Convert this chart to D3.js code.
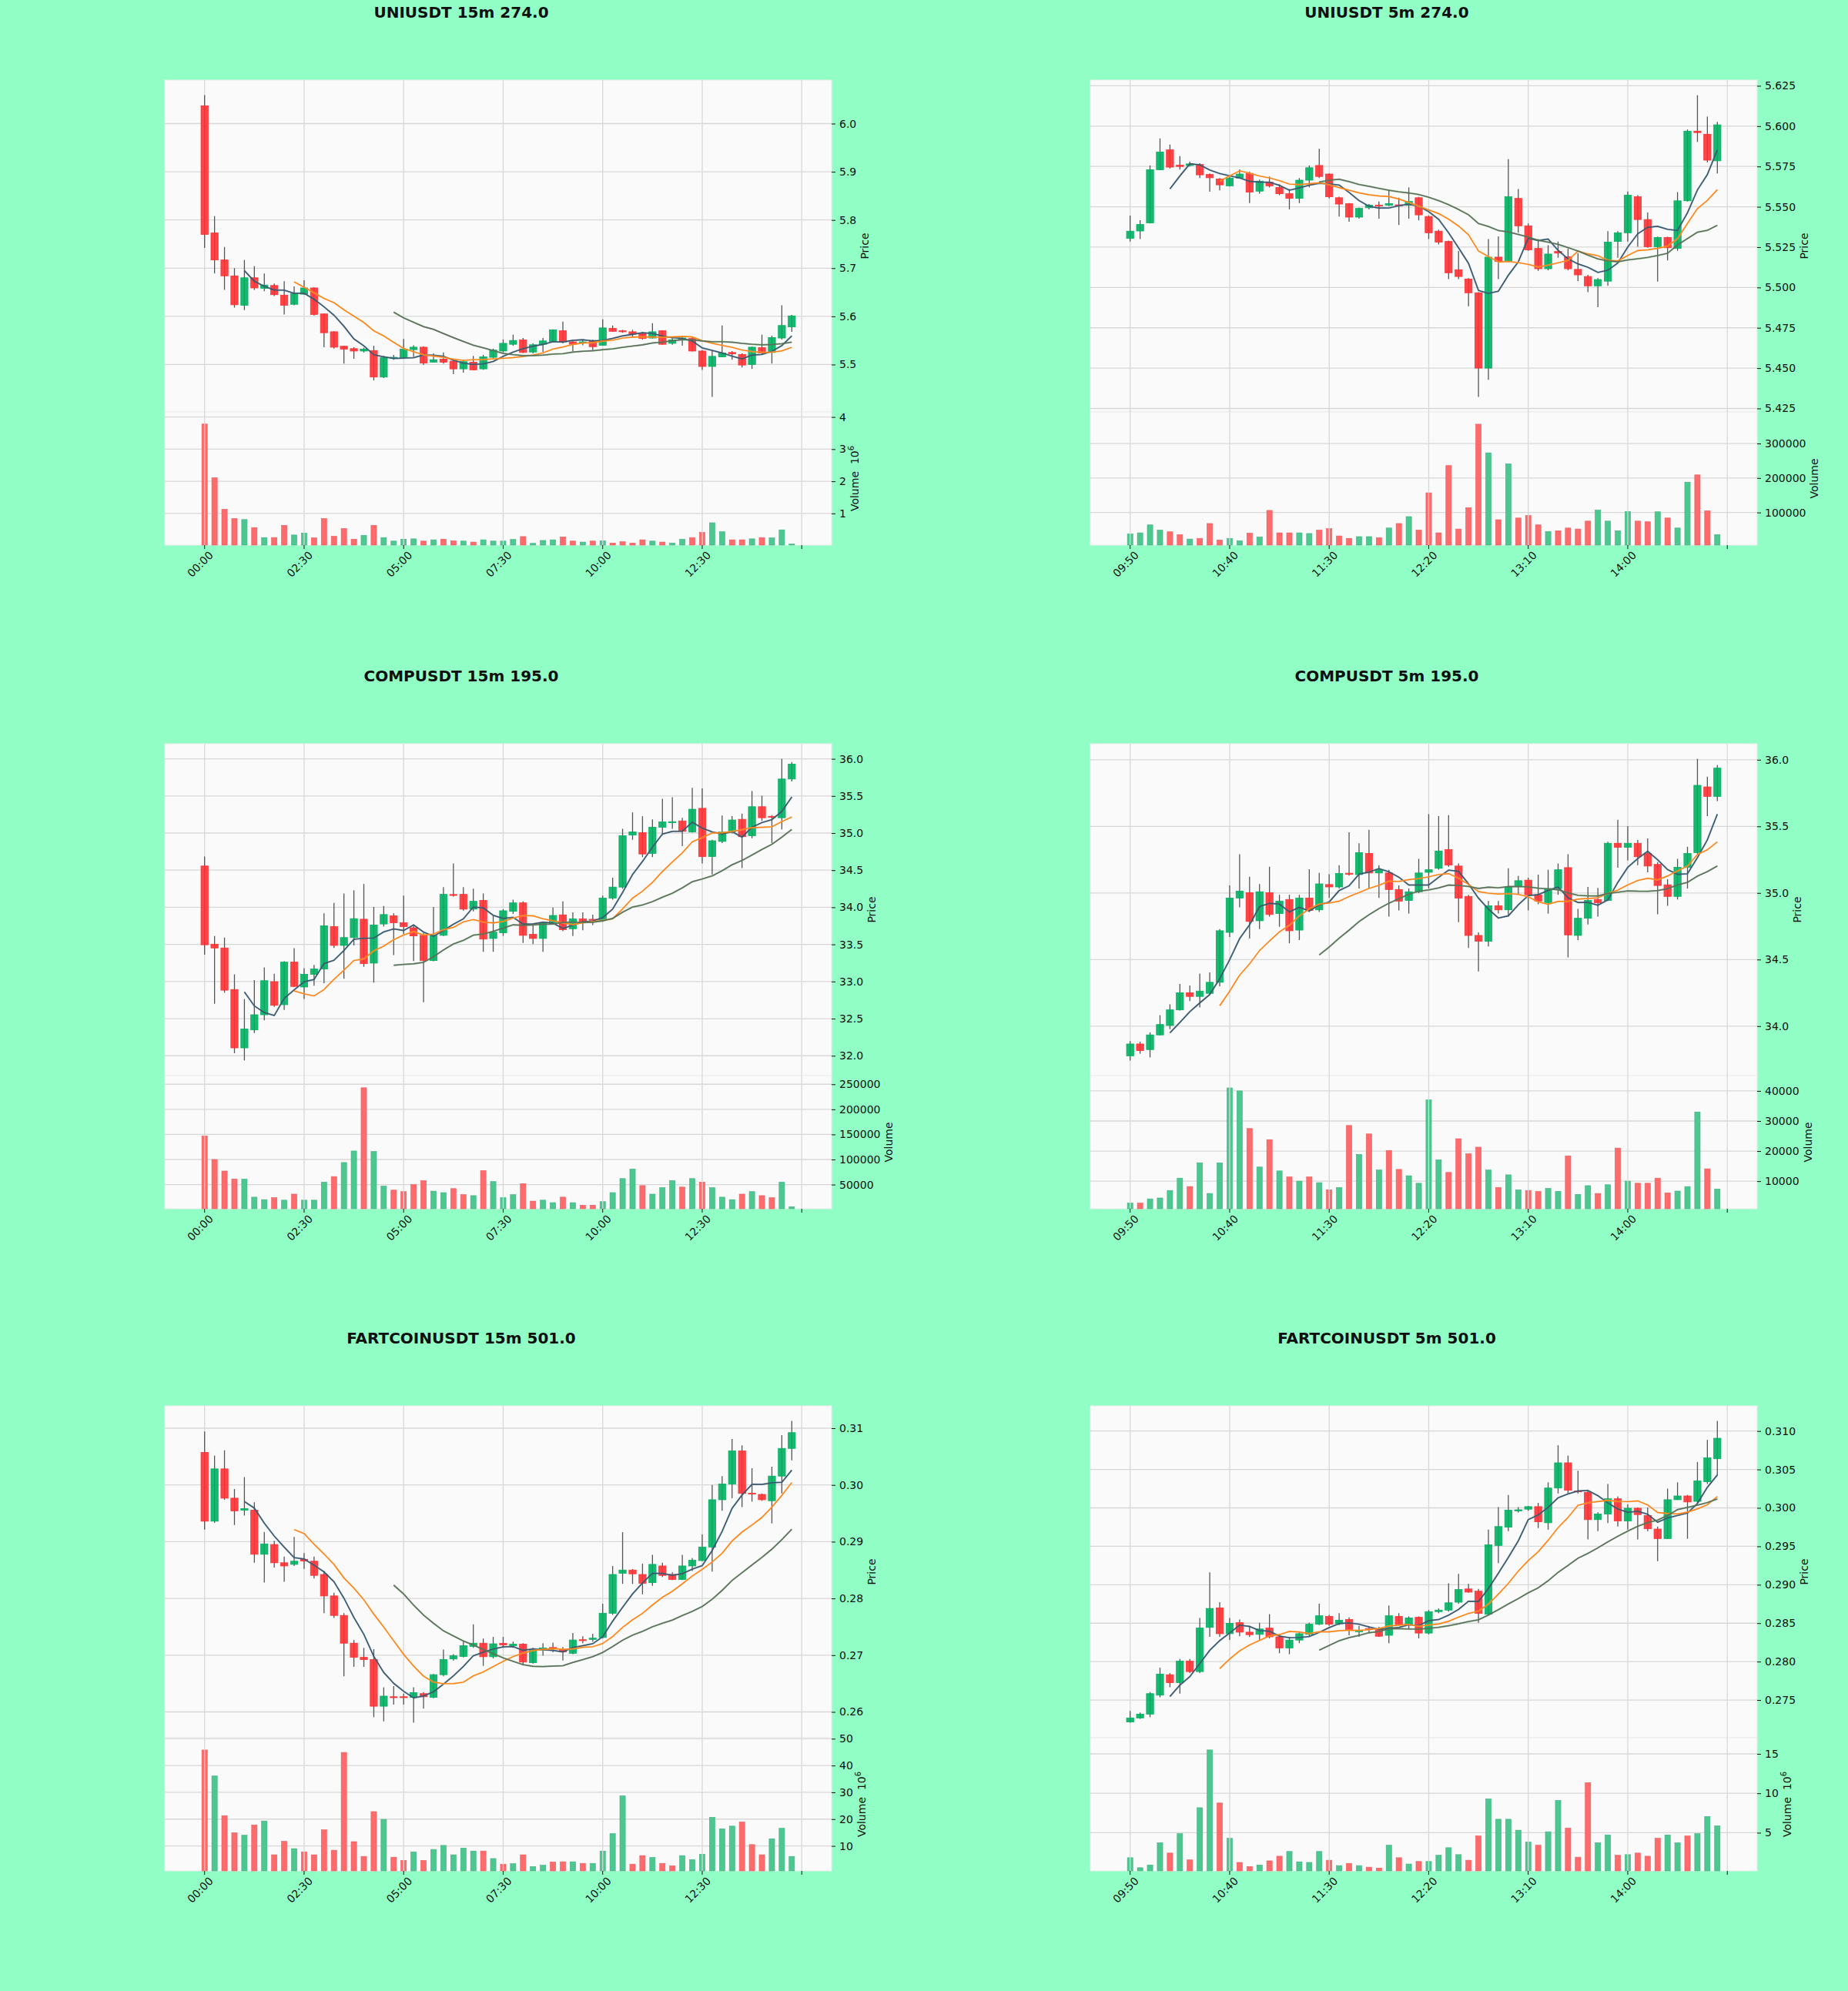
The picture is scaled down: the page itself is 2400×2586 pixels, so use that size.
<!DOCTYPE html>
<html>
<head>
<meta charset="utf-8">
<script src="https://cdn.jsdelivr.net/npm/d3@7"></script>
<style>
  body { margin: 0; background: #91ffc5; }
  svg { display: block; font-family: "DejaVu Sans", sans-serif; }
</style>
</head>
<body>
<div id="chart"></div>
<script>
// ---- tick labels ----
var ticks15 = ["00:00", "02:30", "05:00", "07:30", "10:00", "12:30"];
var ticks5 = ["09:50", "10:40", "11:30", "12:20", "13:10", "14:00"];

// ---- UNIUSDT 15m ----
var uni15O = [6.037,5.773,5.717,5.684,5.623,5.680,5.658,5.664,5.644,5.625,5.646,5.659,5.605,5.568,5.538,5.533,5.528,5.529,5.474,5.514,5.514,5.531,5.536,5.505,5.511,5.507,5.491,5.505,5.491,5.515,5.528,5.542,5.551,5.526,5.542,5.548,5.570,5.547,5.546,5.549,5.540,5.575,5.570,5.568,5.565,5.555,5.570,5.544,5.552,5.554,5.528,5.496,5.516,5.525,5.521,5.500,5.535,5.525,5.555,5.578];
var uni15H = [6.059,5.808,5.744,5.700,5.717,5.704,5.689,5.668,5.673,5.662,5.675,5.660,5.606,5.569,5.539,5.536,5.535,5.539,5.518,5.520,5.553,5.540,5.538,5.523,5.525,5.512,5.510,5.518,5.520,5.533,5.552,5.562,5.555,5.544,5.555,5.573,5.589,5.549,5.551,5.552,5.594,5.581,5.572,5.572,5.568,5.586,5.571,5.557,5.560,5.557,5.530,5.528,5.581,5.528,5.523,5.537,5.562,5.560,5.623,5.603];
var uni15L = [5.742,5.689,5.655,5.618,5.613,5.655,5.652,5.642,5.604,5.623,5.645,5.602,5.536,5.533,5.502,5.512,5.525,5.467,5.472,5.510,5.512,5.516,5.499,5.504,5.502,5.480,5.483,5.488,5.489,5.512,5.525,5.539,5.524,5.523,5.526,5.547,5.544,5.528,5.540,5.530,5.539,5.568,5.566,5.557,5.552,5.554,5.541,5.541,5.539,5.527,5.489,5.433,5.515,5.510,5.494,5.491,5.520,5.502,5.552,5.568];
var uni15C = [5.770,5.717,5.684,5.624,5.680,5.659,5.665,5.645,5.623,5.647,5.659,5.604,5.566,5.536,5.532,5.528,5.532,5.474,5.514,5.515,5.532,5.536,5.503,5.510,5.505,5.491,5.506,5.489,5.516,5.530,5.544,5.550,5.525,5.541,5.549,5.572,5.547,5.542,5.547,5.537,5.576,5.569,5.568,5.563,5.554,5.568,5.542,5.551,5.555,5.528,5.496,5.517,5.524,5.522,5.499,5.536,5.524,5.556,5.581,5.601];
var uni15V = [3780000,2110000,1130000,840000,810000,560000,250000,250000,630000,330000,390000,240000,840000,290000,530000,200000,320000,630000,250000,140000,200000,210000,140000,180000,200000,150000,140000,110000,180000,140000,140000,190000,280000,70000,160000,180000,270000,140000,110000,140000,150000,80000,120000,80000,180000,140000,110000,80000,200000,250000,410000,710000,430000,180000,180000,210000,250000,240000,490000,50000];
var uni15Ticks = [5.5, 5.6, 5.7, 5.8, 5.9, 6.0];
var uni15VTicks = [1e6, 2e6, 3e6, 4e6];

// ---- UNIUSDT 5m ----
var uni5O = [5.5304,5.5350,5.5400,5.5730,5.5853,5.5758,5.5756,5.5762,5.5700,5.5672,5.5630,5.5678,5.5707,5.5597,5.5653,5.5620,5.5581,5.5552,5.5665,5.5756,5.5703,5.5556,5.5519,5.5436,5.5494,5.5510,5.5510,5.5512,5.5510,5.5556,5.5440,5.5349,5.5285,5.5110,5.5052,5.4967,5.4500,5.5188,5.5161,5.5552,5.5382,5.5242,5.5116,5.5223,5.5190,5.5112,5.5068,5.5010,5.5039,5.5285,5.5339,5.5562,5.5421,5.5252,5.5310,5.5242,5.5537,5.5969,5.5950,5.5785];
var uni5H = [5.5446,5.5417,5.5756,5.5924,5.5886,5.5814,5.5780,5.5770,5.5707,5.5678,5.5688,5.5732,5.5717,5.5669,5.5688,5.5639,5.5610,5.5678,5.5756,5.5859,5.5707,5.5562,5.5523,5.5494,5.5517,5.5533,5.5607,5.5556,5.5620,5.5562,5.5446,5.5358,5.5291,5.5226,5.5058,5.4971,5.5300,5.5317,5.5795,5.5610,5.5397,5.5300,5.5262,5.5285,5.5242,5.5213,5.5078,5.5058,5.5349,5.5349,5.5595,5.5572,5.5465,5.5316,5.5314,5.5591,5.5979,5.6192,5.6059,5.6027];
var uni5L = [5.5285,5.5300,5.5397,5.5727,5.5737,5.5731,5.5750,5.5678,5.5593,5.5602,5.5626,5.5678,5.5523,5.5581,5.5620,5.5572,5.5484,5.5523,5.5620,5.5678,5.5552,5.5440,5.5407,5.5426,5.5484,5.5426,5.5504,5.5387,5.5426,5.5416,5.5300,5.5266,5.5052,5.5052,5.4884,5.4322,5.4428,5.5052,5.5155,5.5339,5.5227,5.5103,5.5106,5.5184,5.5106,5.5040,5.4971,5.4878,5.5010,5.5184,5.5285,5.5252,5.5246,5.5036,5.5168,5.5227,5.5533,5.5902,5.5775,5.5707];
var uni5C = [5.5349,5.5390,5.5730,5.5840,5.5746,5.5750,5.5766,5.5698,5.5680,5.5636,5.5678,5.5703,5.5591,5.5659,5.5630,5.5581,5.5552,5.5665,5.5742,5.5688,5.5562,5.5517,5.5436,5.5490,5.5510,5.5508,5.5520,5.5508,5.5533,5.5450,5.5339,5.5281,5.5091,5.5068,5.4967,5.4500,5.5188,5.5161,5.5562,5.5382,5.5233,5.5116,5.5207,5.5213,5.5116,5.5078,5.5010,5.5049,5.5281,5.5339,5.5572,5.5421,5.5252,5.5310,5.5246,5.5537,5.5969,5.5960,5.5789,5.6008];
var uni5V = [38000,41000,64000,49000,44000,36000,23000,25000,68000,20000,25000,18000,40000,29000,106000,41000,41000,41000,39000,49000,53000,32000,25000,30000,30000,27000,55000,68000,88000,49000,157000,41000,236000,52000,114000,356000,273000,79000,241000,84000,91000,64000,45000,47000,55000,52000,75000,107000,75000,47000,103000,75000,73000,102000,84000,55000,188000,209000,105000,36000];
var uni5Ticks = [5.425, 5.45, 5.475, 5.5, 5.525, 5.55, 5.575, 5.6, 5.625];
var uni5VTicks = [100000, 200000, 300000];

// ---- COMPUSDT 15m ----
var comp15O = [34.556,33.503,33.452,32.892,32.106,32.348,32.552,32.998,32.688,33.261,32.926,33.096,33.168,33.741,33.486,33.592,33.839,33.248,33.775,33.885,33.792,33.724,33.622,33.282,33.622,34.172,34.174,33.975,34.093,33.580,33.656,33.945,34.059,33.635,33.580,33.783,33.898,33.711,33.843,33.838,33.826,34.123,34.272,34.972,35.006,34.726,35.079,35.151,35.163,35.015,35.333,34.684,34.887,35.015,35.185,34.964,35.355,35.225,35.206,35.728];
var comp15H = [34.684,33.614,33.592,33.096,32.764,33.019,33.189,33.104,33.274,33.449,33.181,33.223,33.919,34.059,34.187,34.229,34.314,34.004,34.017,33.919,34.157,33.762,33.656,34.004,34.272,34.590,34.272,34.250,34.187,33.886,33.975,34.102,34.080,33.762,33.805,33.996,34.080,33.932,33.932,33.900,34.157,34.399,35.057,35.278,35.227,35.185,35.461,35.482,35.206,35.609,35.601,34.909,35.236,35.227,35.261,35.567,35.503,35.240,36.000,35.958];
var comp15L = [33.360,32.700,32.849,32.034,31.936,32.306,32.476,32.658,32.616,32.926,32.764,32.943,32.977,33.452,33.036,33.486,33.198,32.985,33.741,33.355,33.635,33.275,32.722,33.274,33.614,34.144,33.954,33.945,33.400,33.400,33.614,33.911,33.520,33.503,33.400,33.775,33.677,33.614,33.690,33.760,33.805,34.102,34.250,34.909,34.675,34.675,34.977,35.057,34.824,35.006,34.590,34.442,34.866,34.996,34.527,34.930,35.163,34.866,35.049,35.694];
var comp15C = [33.495,33.452,32.883,32.106,32.361,32.552,33.011,32.679,33.261,32.934,33.096,33.168,33.750,33.486,33.592,33.847,33.240,33.762,33.902,33.792,33.741,33.614,33.282,33.622,34.174,34.165,33.975,34.080,33.571,33.665,33.953,34.059,33.622,33.580,33.783,33.890,33.699,33.843,33.809,33.830,34.123,34.272,34.964,35.015,34.718,35.079,35.151,35.153,35.023,35.321,34.684,34.896,35.015,35.176,34.951,35.355,35.206,35.215,35.728,35.928];
var comp15V = [147000,100000,77000,61000,61000,25000,20000,24000,19000,31000,19000,19000,55000,66000,94000,117000,243000,116000,47000,39000,36000,50000,58000,37000,34000,42000,30000,28000,78000,56000,24000,30000,52000,17000,19000,14000,25000,14000,9000,9000,16000,34000,62000,81000,48000,31000,44000,58000,45000,62000,55000,44000,25000,20000,31000,36000,28000,24000,55000,6000];
var comp15Ticks = [32.0, 32.5, 33.0, 33.5, 34.0, 34.5, 35.0, 35.5, 36.0];
var comp15VTicks = [50000, 100000, 150000, 200000, 250000];

// ---- COMPUSDT 5m ----
var comp5O = [33.777,33.866,33.824,33.934,34.005,34.122,34.251,34.223,34.246,34.329,34.704,34.962,35.002,34.791,35.002,34.845,34.951,34.721,34.962,34.873,35.063,35.045,35.148,35.138,35.296,35.150,35.150,35.026,34.944,35.009,35.155,35.185,35.326,35.202,34.974,34.681,34.638,34.904,34.873,35.049,35.096,34.986,34.927,35.033,35.190,34.681,34.810,34.951,34.944,35.373,35.343,35.373,35.296,35.214,35.061,34.974,35.192,35.303,35.796,35.725];
var comp5H = [33.887,33.883,33.953,34.082,34.164,34.317,34.305,34.394,34.404,34.728,35.056,35.291,35.122,35.066,35.197,34.986,34.986,34.986,35.178,35.150,35.140,35.209,35.455,35.373,35.474,35.209,35.174,35.056,35.033,35.256,35.592,35.577,35.584,35.221,34.986,34.704,34.939,34.939,35.185,35.127,35.115,35.138,35.174,35.221,35.291,34.880,35.045,35.038,35.385,35.549,35.502,35.397,35.409,35.232,35.103,35.256,35.347,36.007,35.873,35.960];
var comp5L = [33.742,33.793,33.765,33.930,33.977,34.117,34.188,34.141,34.234,34.300,34.669,34.892,34.657,34.728,34.822,34.746,34.622,34.646,34.857,34.857,34.962,35.033,35.131,35.033,35.033,34.962,34.822,34.869,34.845,34.998,35.033,35.174,35.197,34.780,34.587,34.411,34.598,34.845,34.822,34.986,34.869,34.915,34.845,34.986,34.516,34.646,34.763,34.822,34.939,35.190,35.244,35.209,35.155,34.840,34.904,34.951,35.033,35.291,35.577,35.690];
var comp5C = [33.866,33.817,33.934,34.012,34.122,34.251,34.223,34.263,34.329,34.716,34.962,35.014,34.786,35.009,34.838,34.939,34.716,34.962,34.869,35.068,35.045,35.146,35.140,35.303,35.150,35.174,35.026,34.939,35.009,35.150,35.174,35.315,35.209,34.962,34.681,34.638,34.904,34.873,35.045,35.092,34.986,34.939,35.033,35.174,34.685,34.810,34.944,34.927,35.373,35.343,35.373,35.272,35.202,35.056,34.974,35.192,35.296,35.808,35.725,35.937];
var comp5V = [2700,2700,4100,4400,6900,11000,8200,16100,5900,16100,41000,40000,27500,14700,23800,13400,11400,10000,11400,9500,7100,7900,28500,18900,25700,13700,20200,13900,11800,9300,37000,17100,12900,24100,19100,21300,13700,7900,12100,7100,6900,6600,7600,6600,18400,5600,8500,5900,8800,21000,10000,9300,9300,11000,6100,6700,8200,33000,14100,7400];
var comp5Ticks = [34.0, 34.5, 35.0, 35.5, 36.0];
var comp5VTicks = [10000, 20000, 30000, 40000];

// ---- FARTCOINUSDT 15m ----
var fart15O = [0.30572,0.29361,0.30283,0.29767,0.29556,0.29556,0.28778,0.28950,0.28628,0.28600,0.28690,0.28656,0.28422,0.28044,0.27700,0.27211,0.26961,0.26922,0.26100,0.26267,0.26267,0.26256,0.26322,0.26256,0.26656,0.26933,0.26978,0.27156,0.27211,0.26972,0.27210,0.27167,0.27194,0.26867,0.27089,0.27135,0.27100,0.27033,0.27272,0.27278,0.27311,0.27739,0.28444,0.28500,0.28422,0.28278,0.28572,0.28422,0.28333,0.28572,0.28667,0.28906,0.29739,0.30017,0.30600,0.29855,0.29833,0.29722,0.30156,0.30644];
var fart15H = [0.30944,0.30517,0.30611,0.29928,0.30139,0.29694,0.29172,0.29017,0.28739,0.29083,0.28800,0.28739,0.28483,0.28100,0.27739,0.27267,0.27128,0.27106,0.26433,0.26456,0.26322,0.26433,0.26350,0.26667,0.27100,0.27017,0.27239,0.27544,0.27294,0.27322,0.27322,0.27239,0.27211,0.27128,0.27211,0.27220,0.27144,0.27389,0.27333,0.27378,0.27906,0.28572,0.29167,0.28517,0.28611,0.28767,0.28628,0.28461,0.28767,0.28711,0.29128,0.30000,0.30156,0.30811,0.30700,0.30294,0.29850,0.30322,0.30878,0.31128];
var fart15L = [0.29211,0.29333,0.29739,0.29294,0.29461,0.28628,0.28278,0.28544,0.28294,0.28572,0.28520,0.28350,0.27739,0.27656,0.26628,0.26794,0.26794,0.25906,0.25833,0.26128,0.26128,0.25811,0.26056,0.26239,0.26628,0.26906,0.26961,0.27128,0.26811,0.26944,0.27128,0.27128,0.26822,0.26850,0.26989,0.27050,0.26906,0.27017,0.27211,0.27239,0.27294,0.27711,0.28256,0.28256,0.28072,0.28222,0.28378,0.28322,0.28322,0.28483,0.28656,0.28472,0.29544,0.29767,0.29611,0.29706,0.29720,0.29322,0.29850,0.30433];
var fart15C = [0.29361,0.30283,0.29767,0.29544,0.29583,0.28778,0.28961,0.28628,0.28572,0.28656,0.28660,0.28406,0.28044,0.27700,0.27211,0.26961,0.26922,0.26100,0.26278,0.26256,0.26260,0.26339,0.26267,0.26656,0.26922,0.26989,0.27167,0.27211,0.26972,0.27200,0.27180,0.27194,0.26878,0.27100,0.27128,0.27122,0.27056,0.27267,0.27262,0.27300,0.27739,0.28422,0.28500,0.28433,0.28267,0.28600,0.28406,0.28333,0.28572,0.28672,0.28906,0.29739,0.30017,0.30600,0.29850,0.29845,0.29739,0.30156,0.30644,0.30922];
var fart15V = [45.8e6,36.1e6,21.3e6,14.9e6,14.0e6,17.8e6,19.3e6,6.7e6,11.7e6,9.0e6,7.8e6,6.7e6,16.0e6,8.4e6,44.9e6,11.6e6,6.1e6,22.8e6,19.9e6,5.8e6,4.6e6,7.8e6,4.6e6,8.7e6,10.2e6,6.7e6,9.2e6,8.1e6,8.1e6,5.3e6,3.2e6,3.4e6,6.7e6,2.3e6,2.8e6,4.0e6,4.1e6,4.1e6,3.5e6,3.5e6,8.1e6,14.6e6,28.7e6,3.2e6,6.4e6,5.7e6,3.5e6,2.6e6,6.4e6,4.9e6,6.9e6,20.7e6,16.4e6,17.4e6,18.9e6,10.5e6,6.7e6,12.7e6,16.6e6,6.1e6];
var fart15Ticks = [0.26, 0.27, 0.28, 0.29, 0.30, 0.31];
var fart15VTicks = [10e6, 20e6, 30e6, 40e6, 50e6];

// ---- FARTCOINUSDT 5m ----
var fart5O = [0.27214,0.27267,0.27317,0.27563,0.27829,0.27727,0.28006,0.27870,0.28445,0.28699,0.28363,0.28506,0.28383,0.28354,0.28436,0.28322,0.28178,0.28280,0.28354,0.28486,0.28588,0.28494,0.28547,0.28388,0.28430,0.28424,0.28342,0.28588,0.28477,0.28576,0.28371,0.28650,0.28670,0.28773,0.28945,0.28916,0.28617,0.29511,0.29749,0.29960,0.29983,0.30016,0.29806,0.30258,0.30586,0.30220,0.30200,0.29847,0.29921,0.30118,0.29831,0.29995,0.29901,0.29724,0.29601,0.30106,0.30155,0.30085,0.30340,0.30639];
var fart5H = [0.27358,0.27337,0.27604,0.27920,0.27850,0.28035,0.28035,0.28568,0.29162,0.28773,0.28568,0.28547,0.28465,0.28506,0.28617,0.28354,0.28322,0.28383,0.28506,0.28752,0.28608,0.28629,0.28576,0.28465,0.28460,0.28453,0.28731,0.28629,0.28588,0.28588,0.28670,0.28691,0.29019,0.29142,0.29011,0.28945,0.29716,0.30011,0.30168,0.30011,0.30024,0.30065,0.30332,0.30815,0.30680,0.30484,0.30229,0.29942,0.30311,0.30147,0.30044,0.30004,0.30004,0.29757,0.30250,0.30332,0.30168,0.30598,0.30885,0.31131];
var fart5L = [0.27206,0.27255,0.27276,0.27535,0.27666,0.27584,0.27850,0.27850,0.28322,0.28322,0.28281,0.28330,0.28322,0.28281,0.28302,0.28109,0.28097,0.28240,0.28330,0.28474,0.28465,0.28474,0.28342,0.28322,0.28380,0.28322,0.28240,0.28465,0.28424,0.28302,0.28354,0.28629,0.28650,0.28752,0.28896,0.28506,0.28601,0.29282,0.29696,0.29940,0.29963,0.29737,0.29716,0.30188,0.30188,0.30188,0.29589,0.29696,0.29803,0.29758,0.29717,0.29589,0.29696,0.29306,0.29593,0.30106,0.29598,0.30065,0.30311,0.30426];
var fart5C = [0.27267,0.27317,0.27583,0.27838,0.27727,0.28006,0.27870,0.28436,0.28691,0.28363,0.28498,0.28383,0.28350,0.28424,0.28322,0.28178,0.28280,0.28363,0.28486,0.28596,0.28486,0.28539,0.28412,0.28400,0.28420,0.28330,0.28596,0.28477,0.28568,0.28371,0.28650,0.28670,0.28765,0.28937,0.28904,0.28629,0.29519,0.29757,0.29970,0.29975,0.30016,0.29819,0.30258,0.30586,0.30229,0.30210,0.29847,0.29921,0.30118,0.29831,0.29995,0.29913,0.29728,0.29601,0.30106,0.30155,0.30077,0.30352,0.30651,0.30906];
var fart5V = [1.83e6,0.56e6,0.91e6,3.73e6,2.42e6,4.88e6,1.55e6,8.17e6,15.5e6,8.77e6,4.29e6,1.23e6,0.71e6,0.91e6,1.43e6,2.02e6,2.62e6,1.31e6,1.23e6,2.62e6,1.51e6,0.83e6,1.11e6,0.83e6,0.63e6,0.52e6,3.41e6,1.83e6,1.03e6,1.35e6,1.35e6,2.14e6,3.1e6,2.22e6,1.51e6,4.6e6,9.29e6,6.71e6,6.71e6,5.32e6,3.81e6,3.41e6,5.12e6,9.09e6,5.6e6,1.9e6,11.35e6,3.73e6,4.72e6,2.14e6,2.22e6,2.42e6,2.02e6,4.29e6,4.72e6,3.73e6,4.6e6,4.88e6,7.06e6,5.87e6];
var fart5Ticks = [0.275, 0.28, 0.285, 0.29, 0.295, 0.30, 0.305, 0.31];
var fart5VTicks = [5e6, 10e6, 15e6];

// ---- layout / style ----
var W = 2400, H = 2586;
var colX = [214, 1416];
var rowY = [104, 966, 1826];
var panelW = 866, priceH = 431, volH = 173;
var upColor = "#00b060", downColor = "#fe3032";
var volUp = "#4dc790", volDown = "#fd6b6c";
var textColor = "#101010";
var gridColor = "#d8d8d8";

var svg = d3.select("#chart").append("svg")
  .attr("width", W)
  .attr("height", H);

svg.append("rect").attr("width", W).attr("height", H).attr("fill", "#91ffc5");

function sma(arr, n) {
  return arr.map(function(d, i) {
    if (i < n - 1) return null;
    return d3.mean(arr.slice(i - n + 1, i + 1));
  });
}

function drawPanel(p, left, top) {
  var n = p.c.length;
  var g = svg.append("g").attr("transform", `translate(${left}, ${top})`);

  var x = d3.scaleLinear().domain([-4, n + 3]).range([0, panelW]);
  var step = x(1) - x(0);
  var lo = d3.min(p.l), hi = d3.max(p.h), pad = (hi - lo) * 0.05;
  var y = d3.scaleLinear().domain([lo - pad, hi + pad]).range([priceH, 0]);
  var vy = d3.scaleLinear()
    .domain([d3.min(p.v) * 0.3, d3.max(p.v) * 1.1])
    .range([volH, 0]);

  // axes backgrounds
  g.append("rect").attr("width", panelW).attr("height", priceH)
    .attr("fill", "#fafafa").attr("stroke", "#ececec").attr("stroke-width", 1);
  var vg = g.append("g").attr("transform", `translate(0, ${priceH})`);
  vg.append("rect").attr("width", panelW).attr("height", volH)
    .attr("fill", "#fafafa").attr("stroke", "#ececec").attr("stroke-width", 1);

  // grid
  var xTicks = d3.range(0, n + 1, 10);
  g.selectAll(".vgrid").data(xTicks).enter().append("line")
    .attr("x1", d => x(d)).attr("x2", d => x(d))
    .attr("y1", 0).attr("y2", priceH + volH)
    .attr("stroke", gridColor).attr("stroke-width", 1.3);
  g.selectAll(".pgrid").data(p.ticks).enter().append("line")
    .attr("x1", 0).attr("x2", panelW)
    .attr("y1", d => y(d)).attr("y2", d => y(d))
    .attr("stroke", gridColor).attr("stroke-width", 1.3);
  vg.selectAll(".vgrid2").data(p.vticks).enter().append("line")
    .attr("x1", 0).attr("x2", panelW)
    .attr("y1", d => vy(d)).attr("y2", d => vy(d))
    .attr("stroke", gridColor).attr("stroke-width", 1.3);

  var idx = d3.range(n);

  // wicks
  g.append("g").selectAll("line").data(idx).enter().append("line")
    .attr("x1", i => x(i)).attr("x2", i => x(i))
    .attr("y1", i => y(p.h[i])).attr("y2", i => y(p.l[i]))
    .attr("stroke", "#555555").attr("stroke-width", 1.3);

  // bodies
  var bw = step * 0.72;
  g.append("g").selectAll("rect").data(idx).enter().append("rect")
    .attr("x", i => x(i) - bw / 2)
    .attr("width", bw)
    .attr("y", i => y(Math.max(p.o[i], p.c[i])))
    .attr("height", i => Math.max(1.2, Math.abs(y(p.o[i]) - y(p.c[i]))))
    .attr("fill", i => p.c[i] >= p.o[i] ? upColor : downColor)
    .attr("fill-opacity", 0.9)
    .attr("stroke", i => p.c[i] >= p.o[i] ? upColor : downColor)
    .attr("stroke-width", 0.8);

  // moving averages (coloured line with a darker one drawn over it)
  var line = d3.line()
    .defined(d => d != null)
    .x((d, i) => x(i))
    .y(d => y(d));
  var mas = [
    { n: 5, under: "#1f77b4", over: "#44535e" },
    { n: 10, under: "#ffbb78", over: "#ff7f0e" },
    { n: 20, under: "#2ca02c", over: "#666666" }
  ];
  mas.forEach(function(m) {
    var vals = sma(p.c, m.n);
    g.append("path").datum(vals).attr("d", line)
      .attr("fill", "none").attr("stroke", m.under).attr("stroke-width", 2.2)
      .attr("stroke-opacity", 0.55);
    g.append("path").datum(vals).attr("d", line)
      .attr("fill", "none").attr("stroke", m.over).attr("stroke-width", 1.4);
  });

  // volume bars
  var vw = step * 0.55;
  vg.append("g").selectAll("rect").data(idx).enter().append("rect")
    .attr("x", i => x(i) - vw / 2)
    .attr("width", vw)
    .attr("y", i => vy(p.v[i]))
    .attr("height", i => volH - vy(p.v[i]))
    .attr("fill", i => p.c[i] >= p.o[i] ? volUp : volDown)
    .attr("stroke", i => p.c[i] >= p.o[i] ? "#3fb080" : "#ec5a5c")
    .attr("stroke-width", 0.6);

  // price axis (right)
  var pAxis = g.append("g").attr("transform", `translate(${panelW}, 0)`)
    .call(d3.axisRight(y).tickValues(p.ticks).tickFormat(d3.format(p.fmt))
      .tickSize(5).tickPadding(5));
  pAxis.select(".domain").remove();
  pAxis.selectAll("line").attr("stroke", textColor);
  pAxis.selectAll("text").attr("fill", textColor)
    .style("font-size", "14px").style("font-family", "DejaVu Sans");

  // volume axis (right)
  var exp = d3.max(p.vticks) >= 1e6 ? 6 : 0;
  var vAxis = vg.append("g").attr("transform", `translate(${panelW}, 0)`)
    .call(d3.axisRight(vy).tickValues(p.vticks)
      .tickFormat(d => d3.format("d")(Math.round(d / Math.pow(10, exp))))
      .tickSize(5).tickPadding(5));
  vAxis.select(".domain").remove();
  vAxis.selectAll("line").attr("stroke", textColor);
  vAxis.selectAll("text").attr("fill", textColor)
    .style("font-size", "14px").style("font-family", "DejaVu Sans");

  // y labels
  var pw = pAxis.node().getBBox().width;
  g.append("text")
    .attr("transform", `translate(${panelW + pw + 16}, ${priceH / 2}) rotate(-90)`)
    .attr("text-anchor", "middle")
    .attr("fill", textColor)
    .style("font-size", "14px")
    .text("Price");

  var vw2 = vAxis.node().getBBox().width;
  var vl = vg.append("text")
    .attr("transform", `translate(${panelW + vw2 + 16}, ${volH / 2}) rotate(-90)`)
    .attr("text-anchor", "middle")
    .attr("fill", textColor)
    .style("font-size", "14px")
    .style("white-space", "pre");
  if (exp > 0) {
    vl.append("tspan").text("Volume  10");
    vl.append("tspan").attr("dy", -6).style("font-size", "10px").text(exp);
  } else {
    vl.text("Volume");
  }

  // x ticks + rotated time labels
  var xb = priceH + volH;
  g.selectAll(".xtick").data(xTicks).enter().append("line")
    .attr("x1", d => x(d)).attr("x2", d => x(d))
    .attr("y1", xb).attr("y2", xb + 5)
    .attr("stroke", textColor).attr("stroke-width", 1);
  g.selectAll(".xlab").data(p.xlabels).enter().append("text")
    .attr("transform", (d, i) => `translate(${x(i * 10) + 12}, ${xb + 14}) rotate(-45)`)
    .attr("text-anchor", "end")
    .attr("fill", textColor)
    .style("font-size", "14px")
    .text(d => d);

  // title
  svg.append("text")
    .attr("x", left + panelW / 2 - 48)
    .attr("y", top - 81)
    .attr("text-anchor", "middle")
    .attr("fill", textColor)
    .style("font-size", "20px")
    .style("font-weight", "bold")
    .text(p.title);
}

var panels = [
  { title: "UNIUSDT 15m 274.0", o: uni15O, h: uni15H, l: uni15L, c: uni15C, v: uni15V,
    ticks: uni15Ticks, fmt: ".1f", vticks: uni15VTicks, xlabels: ticks15 },
  { title: "UNIUSDT 5m 274.0", o: uni5O, h: uni5H, l: uni5L, c: uni5C, v: uni5V,
    ticks: uni5Ticks, fmt: ".3f", vticks: uni5VTicks, xlabels: ticks5 },
  { title: "COMPUSDT 15m 195.0", o: comp15O, h: comp15H, l: comp15L, c: comp15C, v: comp15V,
    ticks: comp15Ticks, fmt: ".1f", vticks: comp15VTicks, xlabels: ticks15 },
  { title: "COMPUSDT 5m 195.0", o: comp5O, h: comp5H, l: comp5L, c: comp5C, v: comp5V,
    ticks: comp5Ticks, fmt: ".1f", vticks: comp5VTicks, xlabels: ticks5 },
  { title: "FARTCOINUSDT 15m 501.0", o: fart15O, h: fart15H, l: fart15L, c: fart15C, v: fart15V,
    ticks: fart15Ticks, fmt: ".2f", vticks: fart15VTicks, xlabels: ticks15 },
  { title: "FARTCOINUSDT 5m 501.0", o: fart5O, h: fart5H, l: fart5L, c: fart5C, v: fart5V,
    ticks: fart5Ticks, fmt: ".3f", vticks: fart5VTicks, xlabels: ticks5 }
];

panels.forEach(function(p, k) {
  drawPanel(p, colX[k % 2], rowY[Math.floor(k / 2)]);
});
</script>
</body>
</html>
